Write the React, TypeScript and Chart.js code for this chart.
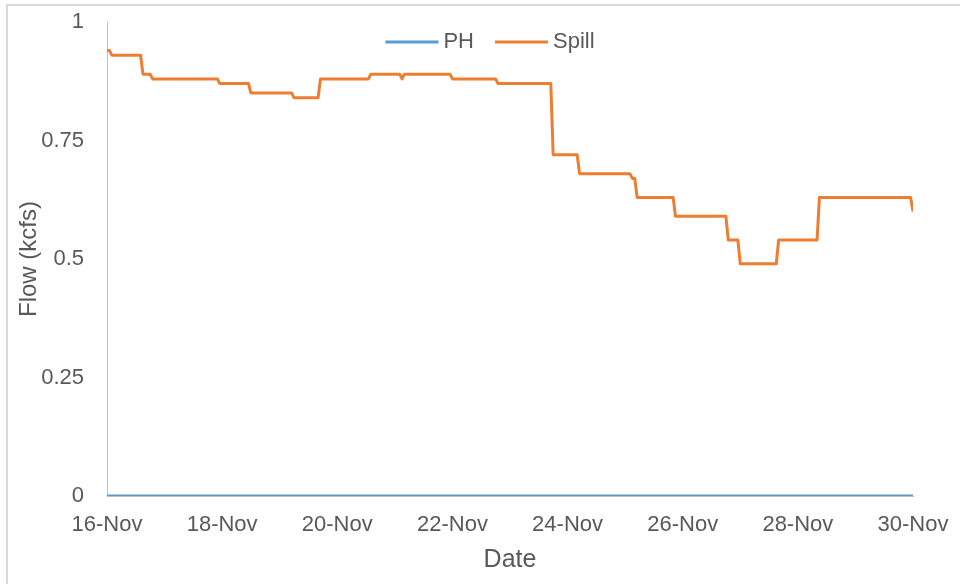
import React, { useEffect, useRef } from "react";
import { Chart, registerables } from "chart.js";

Chart.register(...registerables);

// Hours since 16-Nov 00:00
const spillHours = [0, 1, 2, 14, 15, 18, 19, 46, 47, 59, 60, 77, 78, 88, 89, 109, 110, 122, 123, 124, 143, 144, 162, 163, 185, 186, 196, 197, 218, 219, 220, 221, 236, 237, 258, 259, 263, 264, 279, 280, 296, 297, 335, 336];
const spillFlow = [0.94, 0.94, 0.93, 0.93, 0.89, 0.89, 0.88, 0.88, 0.87, 0.87, 0.85, 0.85, 0.84, 0.84, 0.88, 0.88, 0.89, 0.89, 0.88, 0.89, 0.89, 0.88, 0.88, 0.87, 0.87, 0.72, 0.72, 0.68, 0.68, 0.67, 0.67, 0.63, 0.63, 0.59, 0.59, 0.54, 0.54, 0.49, 0.49, 0.54, 0.54, 0.63, 0.63, 0.6];
const phHours = [0, 336];
const phFlow = [0, 0];

const xTickLabels = ["16-Nov", "18-Nov", "20-Nov", "22-Nov", "24-Nov", "26-Nov", "28-Nov", "30-Nov"];
const yTickLabels = ["0", "0.25", "0.5", "0.75", "1"];

const FONT = '"Liberation Sans", Arial, sans-serif';
const TEXT = "#595959";

const legendPlugin = {
  id: "customLegend",
  afterDraw(chart: any) {
    const ctx = chart.ctx;
    ctx.save();
    ctx.font = `22px ${FONT}`;
    const lineLen = 53;
    const gapText = 5;
    const gapItem = 21;
    const items = chart.data.datasets.map((ds: any) => ({
      label: ds.label,
      color: ds.borderColor,
      w: ctx.measureText(ds.label).width,
    }));
    const total =
      items.reduce((s: number, it: any) => s + lineLen + gapText + it.w, 0) +
      gapItem * (items.length - 1);
    let x = 490 - total / 2;
    const y = 42;
    for (const it of items) {
      ctx.strokeStyle = it.color;
      ctx.lineWidth = 3;
      ctx.beginPath();
      ctx.moveTo(x, y);
      ctx.lineTo(x + lineLen, y);
      ctx.stroke();
      ctx.fillStyle = TEXT;
      ctx.textBaseline = "middle";
      ctx.textAlign = "left";
      ctx.fillText(it.label, x + lineLen + gapText, y);
      x += lineLen + gapText + it.w + gapItem;
    }
    ctx.restore();
  },
};

const zeroPad = (scale: any) => {
  scale.paddingTop = 0;
  scale.paddingBottom = 0;
  scale.paddingLeft = 0;
  scale.paddingRight = 0;
};

export default function App() {
  const ref = useRef<HTMLCanvasElement>(null);
  useEffect(() => {
    if (!ref.current) return;
    const chart = new Chart(ref.current, {
      type: "line",
      data: {
        datasets: [
          {
            label: "PH",
            data: phHours.map((h, i) => ({ x: h, y: phFlow[i] })),
            borderColor: "#5B9BD5",
            backgroundColor: "#5B9BD5",
            borderWidth: 3,
            pointRadius: 0,
            tension: 0,
          },
          {
            label: "Spill",
            data: spillHours.map((h, i) => ({ x: h, y: spillFlow[i] })),
            borderColor: "#ED7D31",
            backgroundColor: "#ED7D31",
            borderWidth: 3,
            pointRadius: 0,
            tension: 0,
            borderJoinStyle: "round",
          },
        ],
      },
      options: {
        animation: false,
        responsive: true,
        maintainAspectRatio: false,
        layout: { padding: { left: 0, top: 22, right: 47, bottom: 0 } },
        plugins: { legend: { display: false }, tooltip: { enabled: false } },
        scales: {
          x: {
            type: "linear",
            min: 0,
            max: 336,
            grid: { display: false, drawTicks: false },
            border: { display: true, color: "#BFBFBF", width: 1 },
            ticks: {
              stepSize: 48,
              autoSkip: false,
              maxRotation: 0,
              padding: 16,
              color: TEXT,
              font: { family: FONT, size: 22 },
              callback: (v: any) => xTickLabels[Math.round(Number(v) / 48)] ?? "",
            },
            title: {
              display: true,
              text: "Date",
              color: TEXT,
              font: { family: FONT, size: 25 },
              padding: { top: 0, bottom: 9 },
            },
            afterFit: (scale: any) => {
              scale.height = 88;
              zeroPad(scale);
            },
          },
          y: {
            min: 0,
            max: 1,
            grid: { display: false, drawTicks: false },
            border: { display: true, color: "#BFBFBF", width: 1 },
            ticks: {
              stepSize: 0.25,
              padding: 23,
              color: TEXT,
              font: { family: FONT, size: 22 },
              callback: (v: any) => yTickLabels[Math.round(Number(v) / 0.25)] ?? "",
            },
            title: {
              display: true,
              text: "Flow (kcfs)",
              color: TEXT,
              font: { family: FONT, size: 24 },
              padding: { top: 15, bottom: 0 },
            },
            afterFit: (scale: any) => {
              scale.width = 107;
              zeroPad(scale);
            },
          },
        },
      },
      plugins: [legendPlugin],
    });
    return () => chart.destroy();
  }, []);

  return (
    <div
      style={{
        position: "fixed",
        left: 0,
        top: 0,
        width: 960,
        height: 584,
        overflow: "hidden",
        background: "#ffffff",
      }}
    >
      <div
        style={{
          position: "absolute",
          left: 6,
          top: 4,
          width: 1000,
          height: 700,
          border: "2px solid #D9D9D9",
          boxSizing: "border-box",
        }}
      />
      <div style={{ position: "absolute", left: 0, top: 0, width: 960, height: 584 }}>
        <canvas ref={ref} />
      </div>
    </div>
  );
}
